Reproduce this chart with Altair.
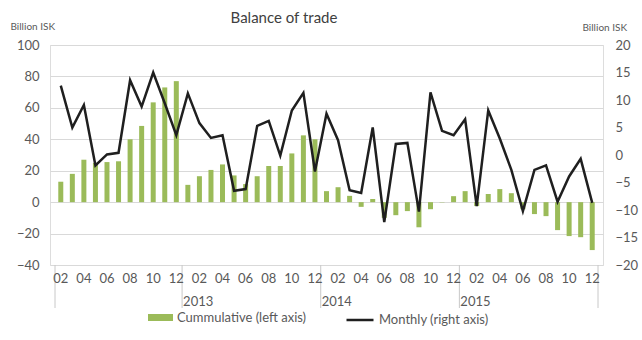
import altair as alt
import pandas as pd

# Month categories: Feb 2012 .. Dec 2015 (47 months)
month_labels = ["02", "03", "04", "05", "06", "07", "08", "09", "10", "11", "12"] + \
    ["01", "02", "03", "04", "05", "06", "07", "08", "09", "10", "11", "12"] * 3
year_labels = ["2013", "2014", "2015"]

cumulative = [13, 18, 27, 25, 25.5, 26, 40, 48.5, 63.5, 73, 77,
              11, 16.5, 20.5, 24, 17, 11.5, 16.5, 23, 23, 31, 42.5, 40,
              7, 9.5, 4, -3, 2, -10, -8.3, -5.7, -16, -4.5, -0.2, 3.8,
              7, -2.5, 5.2, 8.3, 5.7, -4.5, -7.6, -8.9, -17.8, -21.6, -22.3, -30.5]
monthly = [12.6, 5.0, 9.1, -1.9, 0.1, 0.4, 13.6, 8.8, 15.0, 9.4, 3.6,
           11.2, 5.8, 3.1, 3.6, -6.5, -6.2, 5.3, 6.2, -0.1, 8.1, 11.3, -3.0,
           7.5, 2.7, -6.4, -6.9, 5.0, -12.2, 2.0, 2.2, -10.3, 11.4, 4.4, 3.6,
           6.5, -9.3, 8.1, 3.0, -2.7, -10.2, -2.7, -1.9, -8.5, -3.9, -0.7, -8.7]

idx = list(range(len(month_labels)))
df = pd.DataFrame({"i": idx, "month": month_labels, "cum": cumulative, "mon": monthly,
                   "s1": "Cummulative (left axis)", "s2": "Monthly (right axis)"})

# year boundaries (category index positions)
bounds = [-0.5]
for k in range(1, len(month_labels)):
    if month_labels[k] == "01":
        bounds.append(k - 0.5)
bounds.append(len(month_labels) - 0.5)
bdf = pd.DataFrame({"b": bounds})
ydf = pd.DataFrame({"b": bounds[1:-1], "year": year_labels})
even_df = df[df["month"].astype(int) % 2 == 0]

FONT = "Lato"
TXT = "#595959"
GREEN = "#9BBB59"

xscale = alt.Scale(domain=[-0.5, len(month_labels) - 0.5], nice=False, zero=False)
xenc = alt.X("i:Q", scale=xscale,
             axis=alt.Axis(labels=False, ticks=False, grid=False, title=None,
                           domain=True, domainColor="#c8c8c8", domainWidth=1))

bars = alt.Chart(df).mark_bar(width=5).encode(
    x=xenc,
    y=alt.Y("cum:Q", scale=alt.Scale(domain=[-40, 100], nice=False),
            axis=alt.Axis(values=list(range(-40, 101, 20)), grid=True, gridColor="#d9d9d9",
                          domain=False, ticks=False, labelPadding=11, labelFontSize=13,
                          labelColor=TXT, labelFont=FONT,
                          title="Billion ISK", titleAngle=0, titleAlign="left",
                          titleBaseline="middle", titleX=-40, titleY=-19,
                          titleFontSize=10, titleFontWeight="normal", titleColor=TXT,
                          titleFont=FONT)),
    fill=alt.Fill("s1:N", scale=alt.Scale(range=[GREEN]),
                  legend=alt.Legend(title=None, orient="none", legendX=98, legendY=260,
                                    symbolType="M-1,-0.28L1,-0.28L1,0.28L-1,0.28Z",
                                    symbolSize=625, symbolStrokeWidth=0,
                                    labelFontSize=13, labelColor=TXT, labelFont=FONT,
                                    labelOffset=4, padding=0)),
)

line = alt.Chart(df).mark_line(strokeWidth=2.5, color="#1f1f1f").encode(
    x=alt.X("i:Q", scale=xscale, axis=None),
    y=alt.Y("mon:Q", scale=alt.Scale(domain=[-20, 20], nice=False),
            axis=alt.Axis(orient="right", values=list(range(-20, 21, 5)), grid=False,
                          domain=False, ticks=False, labelPadding=12, labelFontSize=13,
                          labelColor=TXT, labelFont=FONT,
                          title="Billion ISK", titleAngle=0, titleAlign="left",
                          titleBaseline="middle", titleX=-21, titleY=-18,
                          titleFontSize=10, titleFontWeight="normal", titleColor=TXT,
                          titleFont=FONT)),
    stroke=alt.Stroke("s2:N", scale=alt.Scale(range=["#1f1f1f"]),
                      legend=alt.Legend(title=None, orient="none", legendX=295, legendY=260,
                                        symbolType="stroke", symbolSize=729,
                                        symbolStrokeWidth=2.5,
                                        labelFontSize=13, labelColor=TXT, labelFont=FONT,
                                        labelOffset=4, padding=0)),
)

dividers = alt.Chart(bdf).mark_rule(color="#c8c8c8", strokeWidth=1).encode(
    x=alt.X("b:Q", scale=xscale, axis=None),
    y=alt.value(220), y2=alt.value(263))

mlabels = alt.Chart(even_df).mark_text(fontSize=13, color=TXT, font=FONT,
                                       baseline="middle", align="center").encode(
    x=alt.X("i:Q", scale=xscale, axis=None), y=alt.value(234), text="month:N")

ylabels = alt.Chart(ydf).mark_text(fontSize=13, color=TXT, font=FONT, baseline="middle",
                                   align="left", dx=1).encode(
    x=alt.X("b:Q", scale=xscale, axis=None), y=alt.value(257), text="year:N")

title = alt.Chart(pd.DataFrame({"t": ["Balance of trade"]})).mark_text(
    fontSize=15, color="#404040", font=FONT, baseline="middle", align="center").encode(
    x=alt.value(234), y=alt.value(-27), text="t:N")

left = alt.layer(bars, dividers, mlabels, ylabels, title)
chart = alt.layer(left, line).resolve_scale(y="independent", fill="independent",
                                            stroke="independent").properties(
    width=553, height=220,
    autosize=alt.AutoSizeParams(type="none"),
    padding={"left": 50, "top": 45, "right": 39, "bottom": 75},
).configure_view(stroke=None).configure(background="white")

chart.save("out.html", embed_options={"renderer": "svg", "actions": False})
